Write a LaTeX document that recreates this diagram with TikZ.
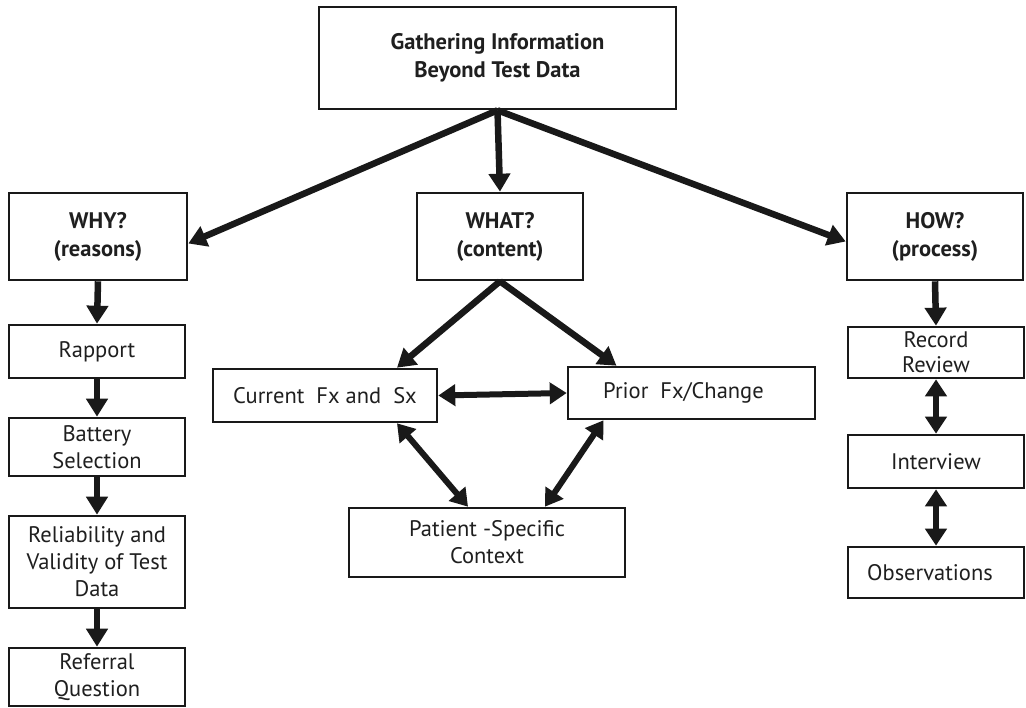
\documentclass[tikz,border=0pt]{standalone}
\usepackage{fontspec}
\setmainfont{PT Sans}
\usetikzlibrary{arrows.meta}
\begin{document}
\begin{tikzpicture}[x=1pt,y=-1pt,
  box/.style={draw=black!90, line width=2.6pt, inner sep=0pt, align=center,
    font=\fontsize{22.5}{27}\selectfont, text=black!88},
  bbox/.style={box, font=\bfseries\fontsize{22.5}{28}\selectfont},
  arr/.style={line width=6.5pt, draw=black!90, -{Triangle[length=18pt,width=21pt]}},
  darr/.style={line width=6pt, draw=black!90,
    {Triangle[length=17pt,width=21pt]}-{Triangle[length=17pt,width=21pt]}},
]
\useasboundingbox (0,0) rectangle (1026,708);
\fill[white] (0,0) rectangle (1026,708);

% top and level 1
\node[bbox, minimum width=357pt, minimum height=102pt] (top) at (497.5,58) {Gathering Information\\Beyond Test Data};
\node[bbox, minimum width=178pt, minimum height=87pt] (why) at (98,236.5) {WHY?\\(reasons)};
\node[bbox, minimum width=166pt, minimum height=87pt] (what) at (500,236.5) {WHAT?\\(content)};
\node[bbox, minimum width=176pt, minimum height=87pt] (how) at (935,236.5) {HOW?\\(process)};

% left column
\node[box, minimum width=176pt, minimum height=53pt] (rapport) at (97,351.5) {Rapport};
\node[box, minimum width=176pt, minimum height=58pt] (battery) at (97,447) {Battery\\Selection};
\node[box, minimum width=176pt, minimum height=92pt] (reliab) at (97,562) {Reliability and\\Validity of Test\\Data};
\node[box, minimum width=176pt, minimum height=58pt] (referral) at (97,677) {Referral\\Question};

% middle
\node[box, minimum width=224pt, minimum height=53pt] (current) at (325,395.5) {Current\ \ Fx and\ \ Sx};
\node[box, minimum width=247pt, minimum height=52pt] (prior) at (691.5,393) {\hspace*{-16pt}Prior\ \ Fx/Change};
\node[box, minimum width=276pt, minimum height=69pt] (patient) at (487,542.5) {Patient -Specific\\Context};

% right column
\node[box, minimum width=176pt, minimum height=51pt, font=\fontsize{22.5}{25}\selectfont] (record) at (936,352.5) {Record\\Review};
\node[box, minimum width=176pt, minimum height=53pt] (interview) at (936,461.5) {Interview};
\node[box, minimum width=176pt, minimum height=51pt] (obs) at (936,572.5) {\hspace*{-12pt}Observations};

% arrows from top
\draw[arr] (top.south) -- ([yshift=-7pt]why.east);
\draw[arr] (top.south) -- (what.north);
\draw[arr] (top.south) -- ([yshift=-5pt]how.west);

% left column arrows
\draw[arr] (why.south) -- (rapport.north);
\draw[arr] (rapport.south) -- (battery.north);
\draw[arr] (battery.south) -- (reliab.north);
\draw[arr] (reliab.south) -- (referral.north);

% middle arrows
\draw[arr] (what.south) -- ([xshift=72pt]current.north);
\draw[arr] (what.south) -- ([xshift=-75pt]prior.north);
\draw[darr] (current.east) -- (prior.west);
\draw[darr] ([xshift=72pt]current.south) -- ([xshift=-19pt]patient.north);
\draw[darr] ([xshift=-88pt]prior.south) -- ([xshift=58pt]patient.north);

% right column arrows
\draw[arr] (how.south) -- (record.north);
\draw[darr] (record.south) -- (interview.north);
\draw[darr] (interview.south) -- (obs.north);
\end{tikzpicture}
\end{document}
